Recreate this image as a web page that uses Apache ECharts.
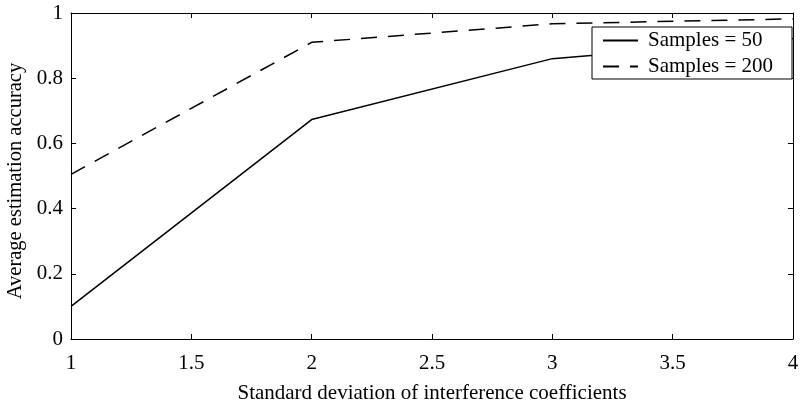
<!DOCTYPE html>
<html>
<head>
<meta charset="utf-8">
<script src="https://cdn.jsdelivr.net/npm/echarts@6/dist/echarts.min.js"></script>
<style>html,body{margin:0;padding:0;background:#fff}#c{width:800px;height:406px}</style>
</head>
<body>
<div id="c"></div>
<script>
const xValues = [1, 2, 3, 4];
const samples50 = [0.10, 0.673, 0.86, 0.922];
const samples200 = [0.505, 0.91, 0.967, 0.982];
const seriesNames = ['Samples = 50', 'Samples = 200'];
const xTitle = 'Standard deviation of interference coefficients';
const yTitle = 'Average estimation accuracy';

const font = 'Liberation Serif';
const chart = echarts.init(document.getElementById('c'));
function axisCommon() {
  return {
    type: 'value',
    axisLine: { show: true, onZero: false, lineStyle: { color: '#000', width: 1 } },
    axisTick: { show: true, inside: true, length: 5, lineStyle: { color: '#000' } },
    splitLine: { show: false }
  };
}
chart.setOption({
  animation: false,
  backgroundColor: '#fff',
  grid: { left: 71, right: 7, top: 13, bottom: 67, containLabel: false, outerBoundsMode: 'none' },
  xAxis: [
    Object.assign(axisCommon(), {
      min: 1, max: 4, interval: 0.5, position: 'bottom',
      axisLabel: { color: '#000', fontFamily: font, fontSize: 21, margin: 14,
        formatter: v => String(v) },
      name: xTitle, nameLocation: 'middle', nameGap: 44,
      nameTextStyle: { color: '#000', fontFamily: font, fontSize: 21 }
    }),
    Object.assign(axisCommon(), {
      min: 1, max: 4, interval: 0.5, position: 'top', axisLabel: { show: false }
    })
  ],
  yAxis: [
    Object.assign(axisCommon(), {
      min: 0, max: 1, interval: 0.2, position: 'left',
      axisLabel: { color: '#000', fontFamily: font, fontSize: 21, margin: 8,
        formatter: v => String(Math.round(v * 10) / 10) },
      name: yTitle, nameLocation: 'middle', nameGap: 38,
      nameTextStyle: { color: '#000', fontFamily: font, fontSize: 20.5, padding: [0, 10, 0, 0] }
    }),
    Object.assign(axisCommon(), {
      min: 0, max: 1, interval: 0.2, position: 'right', axisLabel: { show: false }
    })
  ],
  legend: {
    show: true,
    orient: 'vertical', left: 592, top: 27,
    backgroundColor: '#fff', borderColor: '#000', borderWidth: 1,
    padding: [3, 19, 2, 10], itemGap: 5, itemWidth: 35, itemHeight: 14,
    itemStyle: { color: 'rgba(0,0,0,0)', borderWidth: 0, opacity: 0 },
    textStyle: { color: '#000', fontFamily: font, fontSize: 21, padding: [0, 0, 0, 5] },
    data: seriesNames
  },
  series: [
    { name: seriesNames[0], type: 'line', symbol: 'none', z: 1,
      data: xValues.map((x, i) => [x, samples50[i]]),
      lineStyle: { color: '#000', width: 1.5, type: 'solid' }, itemStyle: { color: '#000' } },
    { name: seriesNames[1], type: 'line', symbol: 'none', z: 1,
      data: xValues.map((x, i) => [x, samples200[i]]),
      lineStyle: { color: '#000', width: 1.5, type: [16, 11] }, itemStyle: { color: '#000' } }
  ]
});
</script>
</body>
</html>
